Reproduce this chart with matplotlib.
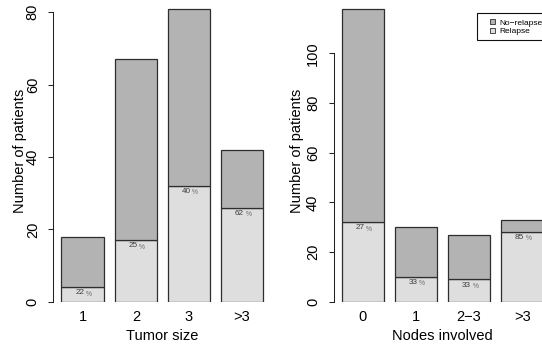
import numpy as np
import matplotlib
matplotlib.use("Agg")
import matplotlib.pyplot as plt
from matplotlib.patches import Patch, Rectangle
from matplotlib.legend_handler import HandlerPatch

plt.rcParams['font.family'] = ['Liberation Sans', 'DejaVu Sans']

# Patient counts by tumor size
tumor_sizes = ['1', '2', '3', '>3']
tumor_relapse = [4, 17, 32, 26]
tumor_no_relapse = [14, 50, 49, 16]

# Patient counts by number of involved nodes
nodes_groups = ['0', '1', '2\u22123', '>3']
nodes_relapse = [32, 10, 9, 28]
nodes_no_relapse = [86, 20, 18, 5]

COL_NO = '#b3b3b3'
COL_RE = '#dedede'
EDGE = '#2e2e2e'

W, H = 542, 349
fig = plt.figure(figsize=(W / 100, H / 100), dpi=100)

PX_PER_X = 42.5
XLIM = (0.06, 5.19)
AX_W = (XLIM[1] - XLIM[0]) * PX_PER_X
BASE_Y = 301.7  # pixel row of y = 0


def make_axes(left_px, px_per_y):
    top_val = BASE_Y / px_per_y
    ax = fig.add_axes([left_px / W, (H - BASE_Y) / H, AX_W / W, BASE_Y / H])
    ax.set_xlim(*XLIM)
    ax.set_ylim(0, top_val)
    for s in ('top', 'right', 'bottom'):
        ax.spines[s].set_visible(False)
    ax.patch.set_visible(False)
    return ax


def draw_panel(ax, cats, relapse, no_relapse, yticks, xlabel, label_dx):
    relapse = np.asarray(relapse)
    no_relapse = np.asarray(no_relapse)
    x = 0.75 + 1.25 * np.arange(len(cats))
    ax.bar(x, relapse, width=1.0, color=COL_RE, edgecolor=EDGE, linewidth=0.9)
    ax.bar(x, no_relapse, width=1.0, bottom=relapse, color=COL_NO,
           edgecolor=EDGE, linewidth=0.9)
    totals = relapse + no_relapse
    pct = np.round(100 * relapse / totals).astype(int)
    for xi, r, p in zip(x, relapse, pct):
        ax.annotate(f'{p}', (xi, r), xytext=(1.3, -1.6), textcoords='offset points',
                    ha='right', va='top', fontsize=5.9, color='#3c3c3c')
        ax.annotate('%', (xi, r), xytext=(2.3, -2.4), textcoords='offset points',
                    ha='left', va='top', fontsize=4.8, color='#6a6a6a')
    ax.set_xticks(x)
    ax.set_xticklabels(cats)
    ax.tick_params(axis='x', length=0, pad=6.0, labelsize=10.5)
    ax.set_yticks(yticks)
    ax.spines['left'].set_bounds(yticks[0], yticks[-1])
    ax.spines['left'].set_linewidth(0.75)
    ax.spines['left'].set_color('#222222')
    ax.tick_params(axis='y', length=3.3, width=0.75, color='#222222', pad=6.5,
                   labelsize=10.5)
    for lab in ax.get_yticklabels():
        lab.set_rotation(90)
        lab.set_va('center')
        lab.set_ha('right')
    ax.set_xlabel(xlabel, fontsize=10.5, va='center')
    ax.xaxis.set_label_coords(0.5, -34.3 / BASE_Y)
    ax.set_ylabel('Number of patients', fontsize=10.5, va='center')
    ax.yaxis.set_label_coords(label_dx / AX_W, 0.5)


ax1 = make_axes(53.4, (BASE_Y - 12.3) / 80)
draw_panel(ax1, tumor_sizes, tumor_relapse, tumor_no_relapse,
           [0, 20, 40, 60, 80], 'Tumor size', -33.7)

ax2 = make_axes(333.5, (BASE_Y - 53.3) / 100)
draw_panel(ax2, nodes_groups, nodes_relapse, nodes_no_relapse,
           [0, 20, 40, 60, 80, 100], 'Nodes involved', -36.5)


def small_square(legend, orig_handle, xdescent, ydescent, width, height, fontsize):
    s = 0.6 * fontsize
    return Rectangle((-xdescent + width - s, -ydescent + (height - s) / 2), s, s)


handles = [Patch(facecolor=COL_NO, edgecolor=EDGE, linewidth=0.6),
           Patch(facecolor=COL_RE, edgecolor=EDGE, linewidth=0.6)]
leg = fig.legend(handles, ['No\u2212relapse', 'Relapse'],
                 loc='upper left', bbox_to_anchor=(477.3 / W, 1 - 13.3 / H),
                 borderaxespad=0, fontsize=6.0, frameon=True, fancybox=False,
                 edgecolor='#111111', framealpha=1, borderpad=0.62,
                 handlelength=1.55, handleheight=0.9, handletextpad=0.42,
                 labelspacing=0.0,
                 handler_map={Patch: HandlerPatch(patch_func=small_square)})
leg.get_frame().set_linewidth(0.8)

fig.savefig('out.png', dpi=100)
